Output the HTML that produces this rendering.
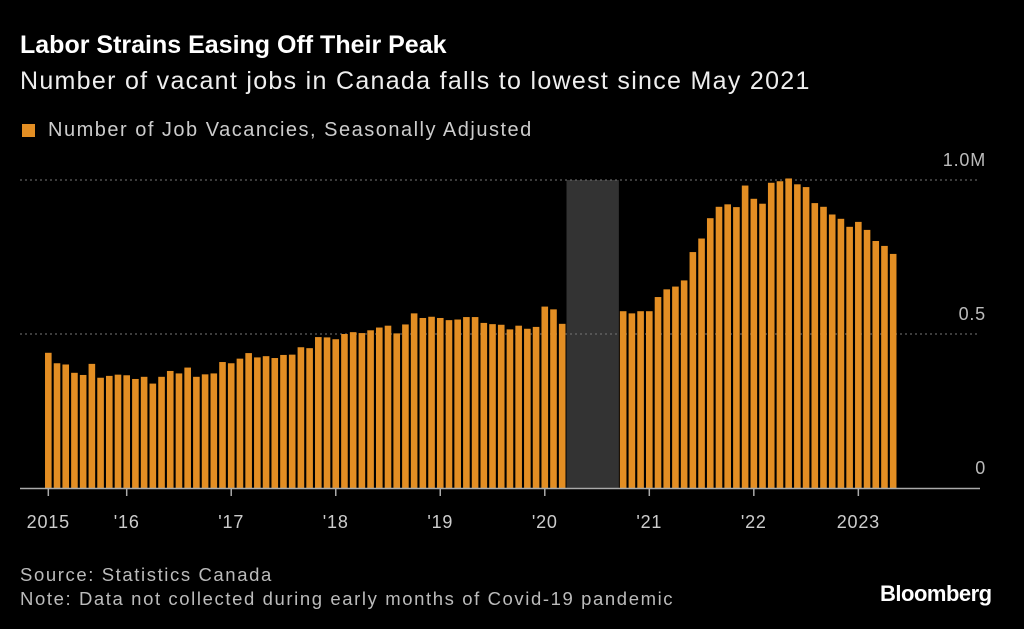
<!DOCTYPE html>
<html><head><meta charset="utf-8"><style>
body{margin:0;background:#000;width:1024px;height:629px;overflow:hidden;font-family:"Liberation Sans",sans-serif;color:#fff}
.t{position:absolute;white-space:nowrap}
</style></head><body>
<div class="t" style="left:20px;top:31px;font-size:25px;font-weight:bold">Labor Strains Easing Off Their Peak</div>
<div class="t" style="left:20px;top:67px;font-size:25px;letter-spacing:1.3px;color:#eee">Number of vacant jobs in Canada falls to lowest since May 2021</div>
<div class="t" style="left:22px;top:119px;font-size:20px;letter-spacing:1.5px;color:#ccc"><span style="display:inline-block;width:13px;height:13px;background:#e38e23;margin-right:13px;vertical-align:-1px"></span>Number of Job Vacancies, Seasonally Adjusted</div>
<svg id="chart" width="1024" height="629" style="position:absolute;left:0;top:0"></svg>
<div class="t" style="left:20px;top:564px;font-size:18.5px;letter-spacing:1.6px;color:#bbb">Source: Statistics Canada</div>
<div class="t" style="left:20px;top:588px;font-size:18.5px;letter-spacing:1.6px;color:#bbb">Note: Data not collected during early months of Covid-19 pandemic</div>
<div class="t" style="left:880px;top:581px;font-size:22px;font-weight:bold;letter-spacing:-0.5px">Bloomberg</div>
<script>
// months since Jan 2015; values in millions
const startMonth = 3; // Apr 2015
const values2015 = [.439,.405,.401,.374,.367,.403,.358,.364,.368];
const values2016 = [.366,.354,.361,.339,.361,.380,.372,.391,.361,.369,.372,.409];
const values2017 = [.405,.420,.438,.424,.428,.422,.432,.433,.457,.454,.490,.489];
const values2018 = [.483,.500,.506,.503,.512,.521,.527,.502,.531,.567,.552,.556];
const values2019 = [.552,.545,.547,.555,.555,.536,.532,.530,.515,.527,.517,.523];
const values2020 = [.589,.580,.533,null,null,null,null,null,null,.574,.567,.574];
const values2021 = [.574,.620,.645,.654,.674,.766,.810,.876,.913,.921,.912,.982];
const values2022 = [.939,.923,.991,.996,1.005,.986,.977,.925,.913,.888,.874,.848];
const values2023 = [.864,.838,.802,.786,.760];
const tickLabels = ["2015","'16","'17","'18","'19","'20","'21","'22","2023"];
const tickMonths = [3,12,24,36,48,60,72,84,96];
const yTicks = [0,0.5,1.0];
const yTickLabels = ["0","0.5","1.0M"];
const gapStart = 63, gapEnd = 68; // Apr–Sep 2020 missing

const series = [].concat(values2015,values2016,values2017,values2018,values2019,values2020,values2021,values2022,values2023);
const svg = document.getElementById('chart');
const NS='http://www.w3.org/2000/svg';
const x = m => 126.7 + (m-12)*8.71;
const y = v => 488 - v*308;
function mk(tag, attrs){const e=document.createElementNS(NS,tag);for(const k in attrs)e.setAttribute(k,attrs[k]);svg.appendChild(e);return e;}

const band = mk('rect',{x:x(gapStart)-4.4,y:y(1.0),width:x(gapEnd)-x(gapStart)+8.8,height:y(0)-y(1.0),fill:'#333'});



yTicks.forEach((v,i)=>{
  if(v>0){
    const g = mk('line',{x1:20,x2:980,y1:y(v),y2:y(v),stroke:'#777','stroke-dasharray':'2,3','stroke-width':1});
    
    
  }
  const t = mk('text',{x:986,y:y(v)-14,'text-anchor':'end',fill:'#bbb','font-size':18,'letter-spacing':'0.8','font-family':'Liberation Sans, sans-serif'});
  t.textContent = yTickLabels[i];
  
  
});

series.forEach((v,i)=>{
  if(v==null) return;
  const m = startMonth + i;
  const b = mk('rect',{x:x(m)-3.3,y:y(v),width:6.6,height:y(0)-y(v),fill:'#e38e23'});
  
  
});

const ax = mk('line',{x1:20,x2:980,y1:488.5,y2:488.5,stroke:'#aaa','stroke-width':1.5});



tickMonths.forEach((m,i)=>{
  const tk = mk('line',{x1:x(m),x2:x(m),y1:488,y2:496,stroke:'#aaa','stroke-width':1.5});
  
  
  const t = mk('text',{x:x(m),y:528,'text-anchor':'middle',fill:'#ccc','font-size':18,'letter-spacing':'0.8','font-family':'Liberation Sans, sans-serif'});
  t.textContent = tickLabels[i];
  
  
});
</script>
</body></html>
